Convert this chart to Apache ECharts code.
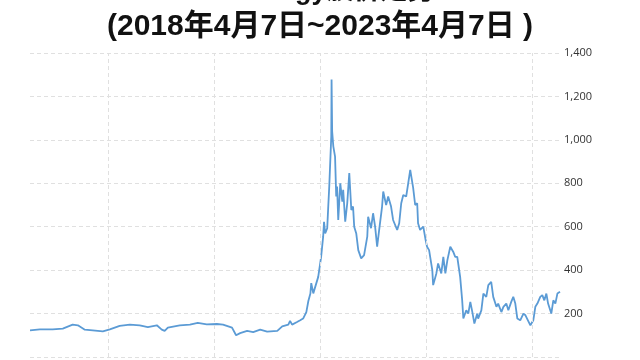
<!DOCTYPE html>
<html>
<head>
<meta charset="utf-8">
<script src="https://cdn.jsdelivr.net/npm/echarts@6/dist/echarts.min.js"></script>
<style>html,body{margin:0;padding:0;background:#fff}#c{width:640px;height:360px}</style>
</head>
<body>
<div id="c"></div>
<script>
const titleTop = 'Energy股价走势';
const titleMain = '(2018年4月7日~2023年4月7日 )';
const yTicks = [0, 200, 400, 600, 800, 1000, 1200, 1400];
const yearMarks = ['2019-01-01', '2020-01-01', '2021-01-01', '2022-01-01', '2023-01-01'];
const dates = [
'2018-04-07','2018-05-11','2018-06-24','2018-07-29','2018-09-01','2018-09-19','2018-10-13','2018-11-09','2018-12-14',
'2019-01-07','2019-02-10','2019-03-17','2019-04-20','2019-05-18','2019-06-18','2019-07-05','2019-07-15','2019-07-26','2019-09-05','2019-10-10','2019-11-06','2019-12-07',
'2020-01-11','2020-02-01','2020-03-03','2020-03-17','2020-03-31','2020-04-24','2020-05-15','2020-06-08','2020-07-02','2020-08-06','2020-08-23','2020-09-13','2020-09-19','2020-09-26','2020-10-13','2020-10-24','2020-11-03','2020-11-14','2020-11-21','2020-11-28','2020-12-01','2020-12-08','2020-12-25',
'2021-01-04','2021-01-11','2021-01-14','2021-01-18','2021-01-25','2021-01-28','2021-02-01','2021-02-08','2021-02-09','2021-02-11','2021-02-15','2021-02-21','2021-02-25','2021-02-28','2021-03-04','2021-03-11','2021-03-18','2021-03-21','2021-03-28','2021-04-04','2021-04-11','2021-04-18','2021-04-24','2021-04-28','2021-05-05','2021-05-12','2021-05-22','2021-06-01','2021-06-12','2021-06-15','2021-06-25','2021-07-02','2021-07-09','2021-07-16','2021-07-23','2021-08-02','2021-08-06','2021-08-16','2021-08-23','2021-09-02','2021-09-09','2021-09-23','2021-09-30','2021-10-07','2021-10-14','2021-10-24','2021-10-31','2021-11-07','2021-11-17','2021-11-24','2021-12-01','2021-12-04','2021-12-11','2021-12-22','2021-12-29',
'2022-01-04','2022-01-11','2022-01-22','2022-01-25','2022-02-05','2022-02-11','2022-02-22','2022-03-01','2022-03-08','2022-03-15','2022-03-25','2022-04-04','2022-04-11','2022-04-18','2022-04-28','2022-05-05','2022-05-09','2022-05-19','2022-05-26','2022-06-02','2022-06-09','2022-06-16','2022-06-26','2022-06-29','2022-07-10','2022-07-17','2022-07-27','2022-08-03','2022-08-13','2022-08-20','2022-08-31','2022-09-06','2022-09-17','2022-09-24','2022-10-04','2022-10-11','2022-10-21','2022-10-28','2022-11-04','2022-11-11','2022-11-21','2022-12-02','2022-12-09','2022-12-15','2022-12-26',
'2023-01-05','2023-01-12','2023-01-19','2023-01-29','2023-02-05','2023-02-12','2023-02-19','2023-02-25','2023-03-08','2023-03-15','2023-03-22','2023-03-29','2023-04-07'
];
const prices = [
123,127,127,131,149,146,126,123,118,
127,143,149,146,138,146,126,120,135,146,149,157,150,
152,149,135,100,110,120,115,126,117,120,141,149,166,149,161,169,177,207,258,292,340,293,369,
461,554,623,569,593,677,785,1016,1278,1039,970,923,739,785,631,800,716,770,623,708,847,677,693,600,569,492,454,469,554,646,593,662,600,508,585,693,762,700,739,693,631,585,616,708,746,739,800,862,780,700,708,616,585,600,546,
508,492,400,331,385,431,385,461,385,446,508,485,461,461,369,261,177,215,200,254,207,154,200,177,215,292,277,331,346,277,231,246,207,231,246,215,254,277,246,177,169,200,192,184,146,
169,231,246,277,285,261,292,246,200,261,246,292,300
];

const chart = echarts.init(document.getElementById('c'), null, {renderer: 'canvas'});
chart.setOption({
  backgroundColor: '#ffffff',
  animation: false,
  title: [
    {text: titleTop, left: 230, top: -27, textStyle: {fontFamily: 'Liberation Sans, Noto Sans CJK SC', fontWeight: 'bold', fontSize: 27, color: '#111'}},
    {text: titleMain, left: 'center', top: 7, textStyle: {fontFamily: 'Liberation Sans Narrow, Liberation Sans, Noto Sans CJK SC', fontWeight: 'bold', fontSize: 30, color: '#111'}}
  ],
  grid: {left: 30, right: 80, top: 53, bottom: 3},
  xAxis: {
    type: 'time', min: dates[0], max: dates[dates.length - 1],
    axisLine: {show: false}, axisTick: {show: false}, axisLabel: {show: false}, splitLine: {show: false}
  },
  yAxis: {
    type: 'value', position: 'right', min: yTicks[0], max: yTicks[yTicks.length - 1], interval: 200,
    axisLine: {show: false}, axisTick: {show: false},
    axisLabel: {
      margin: 4, color: '#333', fontSize: 11, fontFamily: 'Open Sans, DejaVu Sans',
      formatter: v => (v === 0 ? '' : v.toLocaleString('en-US'))
    },
    splitLine: {lineStyle: {color: '#e0e0e0', type: [4, 3], width: 1}}
  },
  series: [{
    type: 'line',
    data: dates.map((d, i) => [d, prices[i]]),
    showSymbol: false,
    lineStyle: {color: '#5b9bd5', width: 1.8},
    markLine: {
      silent: true, symbol: 'none', label: {show: false},
      lineStyle: {color: '#e0e0e0', type: [4, 3], width: 1},
      data: yearMarks.map(d => ({xAxis: d}))
    }
  }]
});
</script>
</body>
</html>
